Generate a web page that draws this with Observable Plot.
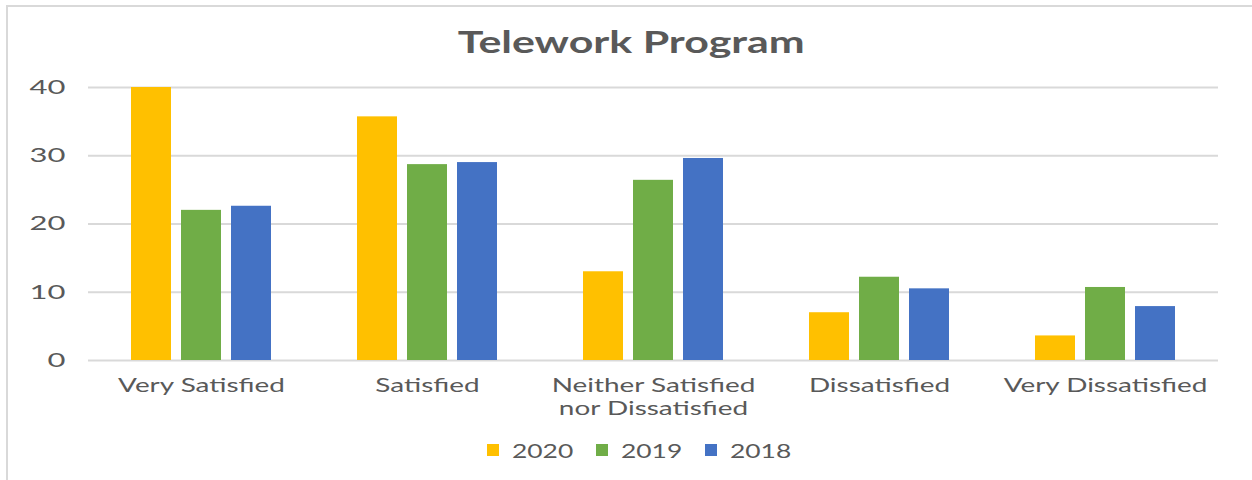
<!DOCTYPE html>
<html>
<head>
<meta charset="utf-8">
<script src="https://cdn.jsdelivr.net/npm/d3@7"></script>
<script src="https://cdn.jsdelivr.net/npm/@observablehq/plot@0.6"></script>
<style>
  html, body { margin: 0; padding: 0; background: #ffffff; }
  body { width: 1252px; height: 480px; position: relative; overflow: hidden; font-family: Lato, "Open Sans", sans-serif; color: #595959; }
  #frame { position: absolute; left: 6px; top: 5px; width: 1400px; height: 700px; border-left: 2px solid #d9d9d9; border-top: 2px solid #d9d9d9; }
  #title { position: absolute; left: 5px; top: 26px; width: 1252px; text-align: center; font-size: 30px; line-height: 30px; font-weight: bold; }
  #title span { display: inline-block; transform: scaleX(1.43); transform-origin: center; }
  #chart { position: absolute; left: 0; top: 70px; }
  #legend { position: absolute; left: 12px; top: 440px; width: 1252px; display: flex; justify-content: center; font-size: 20px; line-height: 20px; }
  .item { display: flex; align-items: center; margin: 0 12px; }
  .sw { width: 12px; height: 12px; margin-right: 13px; }
  .lt { display: inline-block; width: 60px; }
  .lt span { display: inline-block; transform: scaleX(1.32); transform-origin: left center; }
</style>
</head>
<body>
<div id="frame"></div>
<div id="title"><span>Telework Program</span></div>
<div id="chart"></div>
<div id="legend"></div>
<script>
const categories = ["Very Satisfied", "Satisfied", "Neither Satisfied nor Dissatisfied", "Dissatisfied", "Very Dissatisfied"];
const tickLabels = ["Very Satisfied", "Satisfied", "Neither Satisfied\nnor Dissatisfied", "Dissatisfied", "Very Dissatisfied"];
const years = ["2020", "2019", "2018"];
const values2020 = [40.0, 35.7, 13.0, 7.0, 3.6];
const values2019 = [22.0, 28.7, 26.4, 12.2, 10.7];
const values2018 = [22.6, 29.0, 29.6, 10.5, 7.9];
const yTicks = [0, 10, 20, 30, 40];
const colors = ["#FFC000", "#70AD47", "#4472C4"];

const series = [values2020, values2019, values2018];
const data = categories.flatMap((c, i) => years.map((y, j) => ({category: c, year: y, value: series[j][i]})));

const chart = Plot.plot({
  width: 1252,
  height: 355,
  marginLeft: 86,
  marginRight: 33,
  marginTop: 17,
  marginBottom: 65,
  style: {fontFamily: "Lato, 'Open Sans', sans-serif", fontSize: "19px", color: "#595959", background: "transparent", overflow: "visible"},
  fx: {domain: categories, padding: 0, axis: null, label: null},
  x: {domain: years, paddingInner: 0.21, paddingOuter: 0.86, axis: null},
  y: {domain: [0, 40], axis: null, label: null},
  color: {domain: years, range: colors},
  marks: [
    Plot.gridY(yTicks, {stroke: "#d9d9d9", strokeOpacity: 1, strokeWidth: 2}),
    Plot.barY(data, {fx: "category", x: "year", y: "value", fill: "year"}),
    Plot.axisY(yTicks, {tickSize: 0, tickPadding: 23, label: null, fontSize: 20}),
    Plot.axisFx({anchor: "bottom", tickSize: 0, tickPadding: 14, label: null, fontSize: 19, lineHeight: 1.26,
      tickFormat: d => tickLabels[categories.indexOf(d)]})
  ]
});
document.getElementById("chart").appendChild(chart);

d3.select(chart).selectAll("g[aria-label='fx-axis tick label'] text")
  .attr("transform", function() { return (this.getAttribute("transform") || "") + " scale(1.47,1)"; });
d3.select(chart).selectAll("g[aria-label='y-axis tick label'] text")
  .attr("transform", function() { return (this.getAttribute("transform") || "") + " scale(1.55,1)"; });

const legend = d3.select("#legend");
years.forEach((y, i) => {
  const item = legend.append("div").attr("class", "item");
  item.append("div").attr("class", "sw").style("background", colors[i]);
  item.append("div").attr("class", "lt").append("span").text(y);
});
</script>
</body>
</html>
